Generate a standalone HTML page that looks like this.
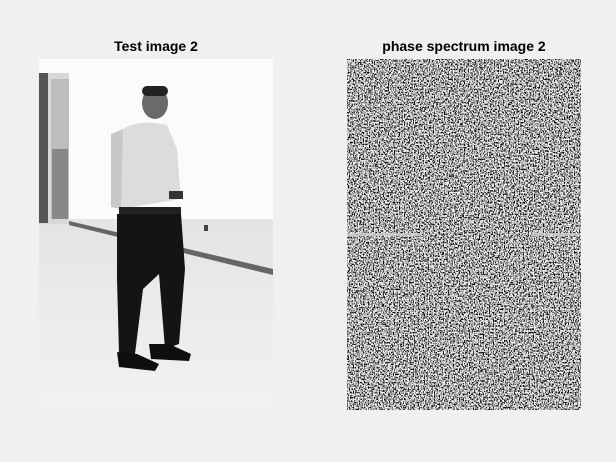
<!DOCTYPE html>
<html><head><meta charset="utf-8">
<style>
html,body{margin:0;padding:0;background:#f0f0f0;}
#fig{position:relative;width:616px;height:462px;background:#f0f0f0;font-family:"Liberation Sans",sans-serif;overflow:hidden;}
.title{position:absolute;font-weight:bold;font-size:14px;color:#000;text-align:center;width:234px;}
</style></head>
<body>
<div id="fig">
<div class="title" style="left:39px;top:38px;">Test image 2</div>
<div class="title" style="left:347px;top:38px;">phase spectrum image 2</div>

<svg style="position:absolute;left:39px;top:59px" width="234" height="351">
<defs>
<linearGradient id="floor" x1="0" y1="0" x2="0" y2="1">
<stop offset="0" stop-color="#e4e4e4"/><stop offset="1" stop-color="#f2f2f2"/></linearGradient>
</defs>
<rect width="234" height="351" fill="#f7f7f7"/>
<rect x="0" y="0" width="234" height="165" fill="#fbfbfb"/>
<rect x="0" y="160" width="234" height="191" fill="url(#floor)"/>
<polygon points="0,14 30,14 30,165 0,165" fill="#d8d8d8"/>
<rect x="0" y="14" width="9" height="150" fill="#555"/>
<rect x="12" y="20" width="18" height="140" fill="#bdbdbd"/>
<rect x="13" y="90" width="16" height="70" fill="#888"/>
<polygon points="30,162 234,210 234,216 30,166" fill="#666"/>
<rect x="165" y="166" width="4" height="6" fill="#444"/>
<!-- person -->
<ellipse cx="116" cy="44" rx="13" ry="16" fill="#6a6a6a"/>
<rect x="103" y="27" width="26" height="10" rx="5" fill="#222"/>
<path d="M84,70 Q100,60 128,66 L138,90 L142,140 L80,150 L72,120 Z" fill="#dcdcdc"/>
<path d="M72,75 L84,70 L82,150 L72,148 Z" fill="#c8c8c8"/>
<rect x="80" y="148" width="62" height="8" fill="#222"/>
<path d="M78,155 L142,155 L146,210 L140,285 L126,290 L120,215 L104,230 L96,295 L80,295 L78,220 Z" fill="#141414"/>
<path d="M78,293 L98,295 L120,305 L116,312 L80,308 Z" fill="#0e0e0e"/>
<path d="M110,285 L130,285 L152,295 L150,302 L112,300 Z" fill="#0e0e0e"/>
<rect x="130" y="132" width="14" height="8" fill="#333"/>
</svg>

<svg style="position:absolute;left:347px;top:59px" width="234" height="351">
<defs>
<filter id="nz" x="0" y="0" width="100%" height="100%">
<feTurbulence type="fractalNoise" baseFrequency="0.8 0.6" numOctaves="2" seed="3"/>
<feColorMatrix type="matrix" values="0.33 0.33 0.33 0 0  0.33 0.33 0.33 0 0  0.33 0.33 0.33 0 0  0 0 0 0 1"/>
<feComponentTransfer><feFuncR type="linear" slope="7" intercept="-3"/><feFuncG type="linear" slope="7" intercept="-3"/><feFuncB type="linear" slope="7" intercept="-3"/></feComponentTransfer>
</filter>
</defs>
<rect width="234" height="351" fill="#808080" filter="url(#nz)"/>
<rect x="0" y="174" width="75" height="3" fill="#d0d0d0" opacity="0.8"/>
<rect x="185" y="174" width="49" height="3" fill="#d0d0d0" opacity="0.8"/>
</svg>
</div>
</body></html>
